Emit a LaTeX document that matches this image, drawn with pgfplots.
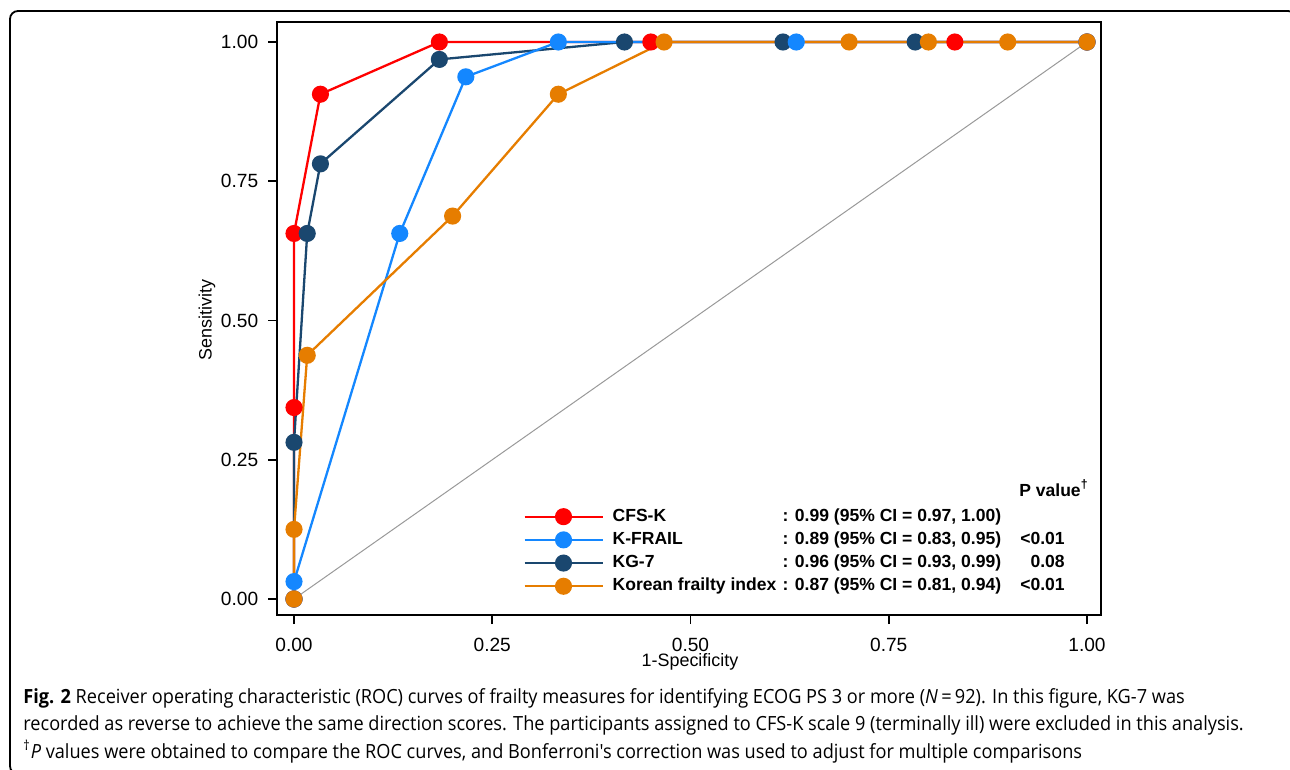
\documentclass[border=0pt]{standalone}
\usepackage{fontspec}
\setmainfont{Liberation Sans}
\newfontfamily\capfont[FakeStretch=0.93]{Open Sans}
\usepackage{pgfplots}
\pgfplotsset{compat=1.18}
\definecolor{cfsred}{RGB}{255,0,0}
\definecolor{kfblue}{RGB}{20,135,255}
\definecolor{kgnavy}{RGB}{26,71,111}
\definecolor{kfiorange}{RGB}{230,125,0}

\begin{document}
\begin{tikzpicture}
% outer frame of the figure panel
\draw[line width=0.9bp, rounded corners=4bp] (5bp,-5.5bp) rectangle (648bp,-387bp);
\begin{axis}[
  at={(138.5bp,-307.5bp)}, anchor=south west,
  scale only axis, width=412bp, height=296.5bp,
  xmin=-0.02144, xmax=1.01765, ymin=-0.02873, ymax=1.0359,
  xtick={0,0.25,0.5,0.75,1}, ytick={0,0.25,0.5,0.75,1},
  xticklabels={0.00,0.25,0.50,0.75,1.00},
  yticklabels={0.00,0.25,0.50,0.75,1.00},
  tick pos=left, tick align=outside,
  major tick length=4.5bp,
  every tick/.style={black, line width=0.9bp},
  axis line style={line width=0.9bp},
  ticklabel style={font=\fontsize{9.6}{11}\selectfont, inner sep=0pt},
  xticklabel style={yshift=-6.7bp},
  yticklabel style={xshift=-4.7bp},
  xlabel={1-Specificity}, ylabel={Sensitivity},
  label style={font=\fontsize{9}{10}\selectfont, inner sep=0pt},
  xlabel style={at={(axis description cs:0.5012,-0.0795)}, anchor=center},
  ylabel style={at={(axis description cs:-0.085,0.4975)}, anchor=center},
  every axis plot/.append style={line width=1.15bp, mark=*, mark size=3.7bp},
  legend image code/.code={\draw[#1, mark repeat=2, mark phase=2] plot coordinates {(0bp,0bp) (19.5bp,0bp) (39bp,0bp)};},
  legend cell align=left,
  legend style={at={(axis description cs:0.2985,0.1805)}, anchor=north west,
    draw=none, fill=none, inner sep=0pt, row sep=3.3bp,
    font=\bfseries\fontsize{8.8}{10}\selectfont,
    nodes={inner sep=0pt, text height=6.4bp, text depth=1.9bp},
    /tikz/every odd column/.append style={column sep=4.5bp}},
]
% chance diagonal
\addplot[forget plot, no marks, line width=0.5bp, color=black!40] coordinates {(0,0) (1,1)};
% CFS-K
\addplot[forget plot, color=cfsred] coordinates {
(0,0) (0,0.34375) (0,0.65625) (0.03333,0.90625) (0.18333,1) (0.45,1) (0.83333,1) (1,1)};
% KG-7
\addplot[forget plot, color=kgnavy] coordinates {
(0,0) (0,0.28125) (0.01667,0.65625) (0.03333,0.78125) (0.18333,0.96875) (0.41667,1) (0.61667,1) (0.78333,1) (1,1)};
% K-FRAIL
\addplot[forget plot, color=kfblue] coordinates {
(0,0) (0,0.03125) (0.13333,0.65625) (0.21667,0.9375) (0.33333,1) (0.63333,1) (1,1)};
% Korean frailty index
\addplot[forget plot, color=kfiorange] coordinates {
(0,0) (0,0.125) (0.01667,0.4375) (0.2,0.6875) (0.33333,0.90625) (0.46667,1) (0.7,1) (0.8,1) (0.9,1) (1,1)};
\addlegendimage{color=cfsred}
\addlegendentry{\makebox[85bp][l]{CFS-K}\makebox[141bp][l]{: 0.99 (95\% CI = 0.97, 1.00)\hfill}}
\addlegendimage{color=kfblue}
\addlegendentry{\makebox[85bp][l]{K-FRAIL}\makebox[141bp][l]{: 0.89 (95\% CI = 0.83, 0.95)\hfill<0.01}}
\addlegendimage{color=kgnavy}
\addlegendentry{\makebox[85bp][l]{KG-7}\makebox[141bp][l]{: 0.96 (95\% CI = 0.93, 0.99)\hfill0.08}}
\addlegendimage{color=kfiorange}
\addlegendentry{\makebox[85bp][l]{Korean frailty index}\makebox[141bp][l]{: 0.87 (95\% CI = 0.81, 0.94)\hfill<0.01}}
\node[anchor=base east, font=\bfseries\fontsize{8.8}{10}\selectfont, inner sep=0pt]
  at (axis description cs:0.9854,0.2) {P value\textsuperscript{\dag}};
\end{axis}
% caption
\begin{scope}[every node/.style={anchor=base west, inner sep=0pt, font=\capfont\fontsize{9.8}{14}\selectfont}]
\node at (11.5bp,-351.5bp) {\textbf{Fig. 2} Receiver operating characteristic (ROC) curves of frailty measures for identifying ECOG PS 3 or more (\textit{N}\,=\,92). In this figure, KG-7 was};
\node at (11.5bp,-365bp) {recorded as reverse to achieve the same direction scores. The participants assigned to CFS-K scale 9 (terminally ill) were excluded in this analysis.};
\node at (11.5bp,-379bp) {\textsuperscript{\dag}\textit{P} values were obtained to compare the ROC curves, and Bonferroni's correction was used to adjust for multiple comparisons};
\end{scope}
\pgfresetboundingbox
\path[use as bounding box] (0,0) rectangle (645bp,-385bp);
\end{tikzpicture}
\end{document}
